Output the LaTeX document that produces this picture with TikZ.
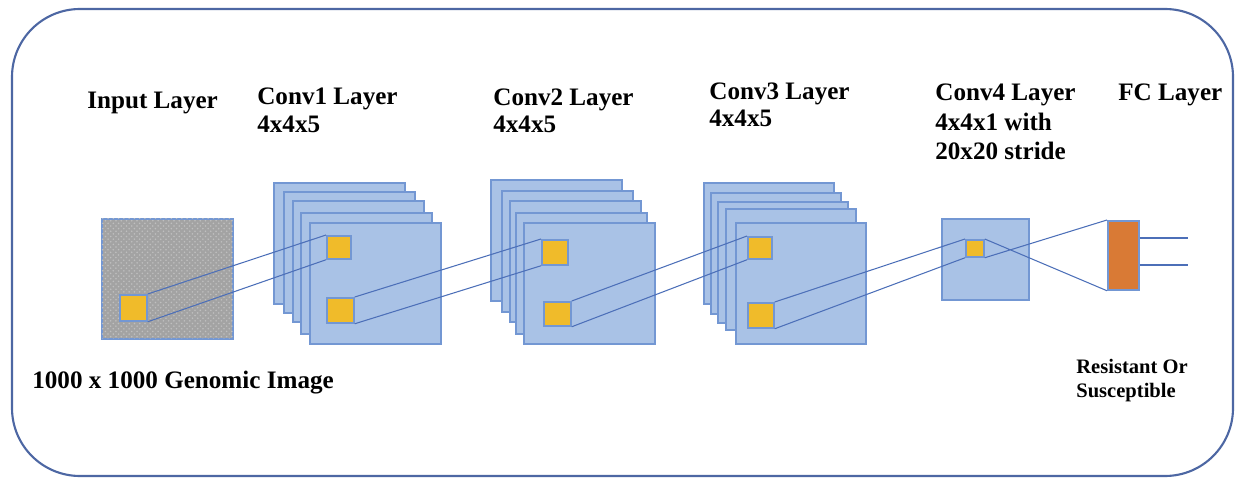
\documentclass[tikz,border=0pt]{standalone}
\usepackage{fontspec}
\setmainfont{Liberation Serif}
\newfontfamily\labelfont{Liberation Serif}
\usetikzlibrary{patterns}
\definecolor{sheetfill}{HTML}{A9C2E6}
\definecolor{sheetedge}{HTML}{7397D3}
\definecolor{kernelfill}{HTML}{F0BB2A}
\definecolor{fcfill}{HTML}{D97A35}
\definecolor{linkblue}{HTML}{4C6FB8}
\definecolor{framecol}{HTML}{4D67A3}
\tikzset{
    % sizes in pixels of the drawing
    px/.style 2 args={minimum width=#1*0.02cm, minimum height=#2*0.02cm},
    %
    % boxes
    sheet/.style={draw=sheetedge, fill=sheetfill, line width=1pt, inner sep=0pt, anchor=north west},
    kernel/.style={sheet, fill=kernelfill},
    fc cell/.style={sheet, fill=fcfill},
    input image/.style={sheet, fill=gray!72, postaction={pattern=crosshatch dots, pattern color=gray!50}},
    %
    % lines and text
    link/.style={draw=linkblue, line width=0.6pt},
    frame/.style={draw=framecol, line width=1.2pt, rounded corners=1.36cm},
    lbl/.style={font=\labelfont\bfseries\fontsize{14.3}{16}\selectfont, anchor=base west, inner sep=0pt},
    small lbl/.style={lbl, font=\labelfont\bfseries\fontsize{11.7}{13.5}\selectfont}
}
\begin{document}
\begin{tikzpicture}[x=0.02cm, y=-0.02cm]
    \useasboundingbox (0,0) rectangle (1239,479);
    \draw[frame] (12,9) rectangle (1233,476);
    %
    % input layer
    \node[input image, px={131}{120}] (in) at (101,218) {};
    \node[kernel, px={27}{26}] (ink) at (119,294) {};
    %
    % conv layers
    \foreach \x/\y [count=\i] in {273/182,283/191,292/200,300/212,309/222}
        \node[sheet, px={131}{121}] (c1s\i) at (\x,\y) {};
    \foreach \x/\y [count=\i] in {490/179,501/190,509/200,515/212,523/222}
        \node[sheet, px={131}{121}] (c2s\i) at (\x,\y) {};
    \foreach \x/\y [count=\i] in {703/182,710/192,717/201,725/208,735/222}
        \node[sheet, px={130}{121}] (c3s\i) at (\x,\y) {};
    \node[kernel, px={24}{23}] (c1a) at (326,235) {};
    \node[kernel, px={27}{25}] (c1b) at (326,297) {};
    \node[kernel, px={26}{25}] (c2a) at (541,239) {};
    \node[kernel, px={27}{24}] (c2b) at (543,301) {};
    \node[kernel, px={24}{22}] (c3a) at (747,236) {};
    \node[kernel, px={26}{25}] (c3b) at (747,302) {};
    %
    % conv4 and fc
    \node[sheet, px={87}{81}] (c4) at (941,218) {};
    \node[kernel, px={18}{17}] (c4k) at (965,239) {};
    \node[fc cell, px={31}{69}] (fc) at (1107,220) {};
    \coordinate (out1) at (1188,238);
    \coordinate (out2) at (1188,265);
    %
    % connections
    \draw[link] (ink.north east) -- (c1a.north west) (ink.south east) -- (c1a.south west);
    \draw[link] (c1b.north east) -- (c2a.north west) (c1b.south east) -- (c2a.south west);
    \draw[link] (c2b.north east) -- (c3a.north west) (c2b.south east) -- (c3a.south west);
    \draw[link] (c3b.north east) -- (c4k.north west) (c3b.south east) -- (c4k.south west);
    \draw[link] (c4k.north east) -- (fc.south west) (c4k.south east) -- (fc.north west);
    \draw[link] (fc.east |- out1) -- (out1);
    \draw[link] (fc.east |- out2) -- (out2);
    %
    % labels
    \node[lbl] (tin) at (87,109) {Input Layer};
    \node[lbl] (t1) at (257,105) {Conv1 Layer};
    \node[lbl] (t1b) at (257,133) {4x4x5};
    \node[lbl] (t2) at (493,106) {Conv2 Layer};
    \node[lbl] (t2b) at (493,133) {4x4x5};
    \node[lbl] (t3) at (709,100) {Conv3 Layer};
    \node[lbl] (t3b) at (709,127) {4x4x5};
    \node[lbl] (t4) at (935,101) {Conv4 Layer};
    \node[lbl] (t4b) at (935,131) {4x4x1 with};
    \node[lbl] (t4c) at (935,160) {20x20 stride};
    \node[lbl] (tfc) at (1118,101) {FC Layer};
    \node[lbl] (timg) at (32,388) {1000 x 1000 Genomic Image};
    \node[small lbl] (tres) at (1076,373) {Resistant Or};
    \node[small lbl] (tsus) at (1076,397) {Susceptible};
\end{tikzpicture}
\end{document}
